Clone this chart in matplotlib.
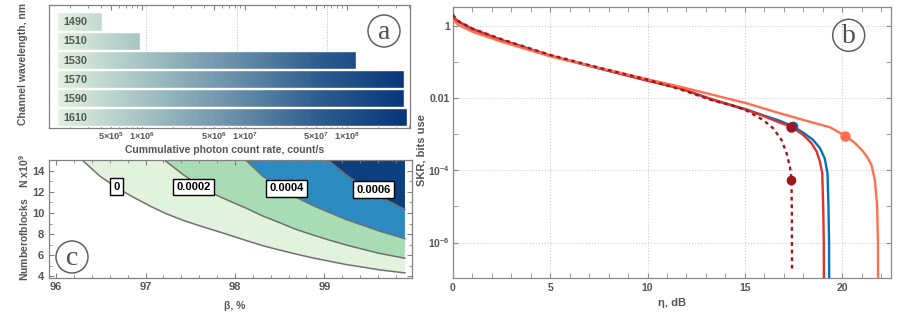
import numpy as np
import matplotlib
matplotlib.use('Agg')
import matplotlib.pyplot as plt
from matplotlib.colors import LinearSegmentedColormap
from matplotlib.patches import Ellipse
from matplotlib.ticker import FixedLocator, MultipleLocator, NullFormatter

plt.rcParams['font.family'] = ['Liberation Sans', 'DejaVu Sans']
plt.rcParams['mathtext.fontset'] = 'custom'
plt.rcParams['mathtext.rm'] = 'Liberation Sans:bold'
plt.rcParams['mathtext.it'] = 'Liberation Sans:bold'
plt.rcParams['mathtext.bf'] = 'Liberation Sans:bold'

GRAY = '#555555'
FRAME = '#808080'

# ---- panel (a): photon count rate per channel
channels = ['1490', '1510', '1530', '1570', '1590', '1610']
count_rate = [4.05e5, 9.6e5, 1.22e8, 3.6e8, 3.55e8, 3.82e8]
bar_base = 1.48e5

# ---- panel (c): contour boundaries (beta %, N x1e9)
levels = ['0', '0.0002', '0.0004', '0.0006']
beta_0 = [96.29, 96.49, 96.68, 96.86, 97.05, 97.23, 97.42, 97.61, 97.79, 97.94, 98.13, 98.31,
          98.50, 98.68, 98.87, 99.06, 99.24, 99.43, 99.61, 99.90]
n_0 = [15.0, 13.47, 12.37, 11.50, 10.65, 9.93, 9.30, 8.77, 8.30, 7.90, 7.38, 6.91,
       6.49, 6.12, 5.75, 5.43, 5.13, 4.88, 4.63, 4.33]
beta_2 = [97.21, 97.42, 97.61, 97.79, 97.94, 98.13, 98.31, 98.50, 98.68, 98.87, 99.06, 99.24,
          99.43, 99.61, 99.90]
n_2 = [15.0, 13.62, 12.53, 11.69, 11.12, 10.43, 9.71, 9.08, 8.45, 7.92, 7.42, 6.98,
       6.57, 6.19, 5.72]
beta_4 = [98.12, 98.31, 98.50, 98.68, 98.87, 99.06, 99.24, 99.43, 99.61, 99.90]
n_4 = [15.0, 13.47, 12.37, 11.50, 10.71, 10.02, 9.39, 8.83, 8.30, 7.57]
beta_6 = [99.04, 99.24, 99.43, 99.61, 99.90]
n_6 = [15.0, 13.62, 12.53, 11.59, 10.33]
label_beta = [96.68, 97.54, 98.58, 99.55]
label_n = [12.47, 12.44, 12.31, 12.21]

# ---- panel (b): SKR vs losses
eta_blue = [0, 0.1, 0.3, 1, 2.5, 5, 7.5, 10, 11.66, 13.37, 15.08, 15.94, 16.79, 17.45, 17.99, 18.5,
            18.85, 19.1, 19.24, 19.29, 19.32, 19.33]
skr_blue = [1.9, 1.55, 1.27, 0.80, 0.40, 0.147, 0.066, 0.030, 0.0185, 0.0089, 0.0048, 0.0033, 0.00234,
            0.00166, 0.0011, 6.9e-4, 4.1e-4, 2.1e-4, 8.3e-5, 1.0e-5, 1e-6, 1e-8]
eta_red = [0, 0.1, 0.3, 1, 2.5, 5, 7.5, 10, 11.66, 13.37, 15.08, 15.94, 16.79, 17.36, 17.99, 18.42,
           18.68, 18.85, 18.97, 19.02, 19.05, 19.06]
skr_red = [1.97, 1.58, 1.29, 0.81, 0.40, 0.148, 0.066, 0.030, 0.0185, 0.0088, 0.00466, 0.00318, 0.00207,
           0.00162, 9.5e-4, 5.6e-4, 3.3e-4, 1.74e-4, 8.3e-5, 1.0e-5, 1e-6, 1e-8]
eta_sal = [0, 0.3, 1, 2.5, 5, 7.5, 10, 11.66, 13.37, 15.08, 16.79, 18.5, 19.36, 20.13, 20.6, 21.07,
           21.3, 21.5, 21.67, 21.79, 21.83, 21.84]
skr_sal = [1.43, 1.04, 0.68, 0.36, 0.141, 0.068, 0.0328, 0.0205, 0.0121, 0.00713, 0.00377, 0.00207,
           0.00155, 9.1e-4, 6.0e-4, 3.3e-4, 2.2e-4, 1.4e-4, 5.4e-5, 1e-5, 1e-6, 1e-8]
eta_dash = [0, 0.3, 1, 2.5, 5, 7.5, 10, 11.66, 13.37, 14.57, 15.08, 15.94, 16.45, 16.88, 17.14, 17.31,
            17.39, 17.41, 17.42]
skr_dash = [2.0, 1.32, 0.83, 0.42, 0.155, 0.069, 0.032, 0.0174, 0.0084, 0.00575, 0.00447, 0.00245,
            0.00145, 6.9e-4, 2.95e-4, 1.26e-4, 6.0e-5, 6.3e-6, 1.6e-7]
dot_eta = [17.45, 17.36, 20.15, 17.38]
dot_skr = [1.66e-3, 1.62e-3, 9.1e-4, 5.5e-5]

W, H = 897, 315
fig = plt.figure(figsize=(W / 100, H / 100), dpi=100)


def px_axes(l, t, r, b):
    return fig.add_axes([l / W, 1 - b / H, (r - l) / W, (b - t) / H])


def style_frame(ax, color=FRAME, size=8):
    for s in ax.spines.values():
        s.set_color(color)
        s.set_linewidth(0.9)
    ax.tick_params(which='both', direction='in', colors=color, labelcolor=GRAY,
                   labelsize=size, top=True, right=True)
    ax.tick_params(which='major', length=3.5)
    ax.tick_params(which='minor', length=2)
    for t in ax.get_xticklabels() + ax.get_yticklabels():
        t.set_fontweight('bold')


def circle_label(x, y, letter, r=16):
    fig.add_artist(Ellipse((x / W, 1 - y / H), 2 * r / W, 2 * r / H, transform=fig.transFigure,
                           facecolor='none', edgecolor='#606060', lw=1.1, zorder=10))
    fig.text(x / W, 1 - (y + 1.5) / H, letter, ha='center', va='center', fontsize=20,
             family='Liberation Serif', color='#505050', zorder=11)


# ---------------- panel (a)
axa = px_axes(49, 5, 410, 128)
axa.set_xscale('log')
xmin, xmax = 1.24e5, 4.1e8
ypos = np.arange(len(channels))
bars = axa.barh(ypos, np.array(count_rate) - bar_base, left=bar_base, height=0.94,
                facecolor='none', edgecolor='white', lw=1.0, zorder=3)
grad = LinearSegmentedColormap.from_list('g', ['#e1f1df', '#a3c1c3', '#6a90aa', '#2d5c8e', '#08367a'])
xe = np.logspace(np.log10(bar_base), np.log10(3.85e8), 200)
for bar in bars:
    ye = [bar.get_y(), bar.get_y() + bar.get_height()]
    mesh = axa.pcolormesh(xe, ye, np.linspace(0, 1, len(xe) - 1)[None, :], cmap=grad, zorder=2)
    mesh.set_clip_path(bar)
for i, ch in enumerate(channels):
    axa.text(1.72e5, i + 0.04, ch, va='center', ha='left', fontsize=7.8, fontweight='bold', color=GRAY, zorder=4)
axa.set_xlim(xmin, xmax)
axa.set_ylim(5.55, -0.86)
axa.set_yticks([])
axa.set_xticks([5e5, 1e6, 5e6, 1e7, 5e7, 1e8])
axa.set_xticklabels([r'5$\times$10$^{5}$', r'1$\times$10$^{6}$', r'5$\times$10$^{6}$',
                     r'1$\times$10$^{7}$', r'5$\times$10$^{7}$', r'1$\times$10$^{8}$'])
for g in [1.1e6, 8.5e6, 6.4e7]:
    axa.axvline(g, color='#bbbbbb', lw=0.7, ls=':', zorder=1)
style_frame(axa, size=6.6)
axa.tick_params(axis='x', pad=1.5)
axa.tick_params(axis='y', left=False, right=False)
fig.text(225 / W, 1 - 150 / H, 'Cummulative photon count rate, count/s', ha='center', va='center',
         fontsize=7.5, fontweight='bold', color=GRAY)
fig.text(23 / W, 1 - 64 / H, 'Channel wavelength, nm', ha='center', va='center', rotation=90,
         fontsize=7.5, fontweight='bold', color=GRAY)
circle_label(384, 31, 'a')

# ---------------- panel (c)
axc = px_axes(49, 160, 412, 277.5)
fills = ['#e1f3dc', '#a8dcb5', '#2b8bc0', '#0b3f80']
curves = [(beta_0, n_0), (beta_2, n_2), (beta_4, n_4), (beta_6, n_6)]
for (bx, ny), col in zip(curves, fills):
    px = list(bx) + [bx[-1]]
    py = list(ny) + [15.0]
    axc.fill(px, py, color=col, lw=0, zorder=1)
    axc.plot(bx, ny, color='#707070', lw=1.1, zorder=2)
for lab, bx, ny in zip(levels, label_beta, label_n):
    axc.text(bx, ny, lab, ha='center', va='center', fontsize=8, fontweight='bold', color='black', zorder=5,
             bbox=dict(boxstyle='square,pad=0.3', fc='white', ec='black', lw=1.0))
axc.set_xlim(95.92, 99.98)
axc.set_ylim(3.9, 15.0)
axc.set_xticks([96, 97, 98, 99])
axc.set_yticks([4, 6, 8, 10, 12, 14])
axc.xaxis.set_minor_locator(MultipleLocator(0.2))
axc.yaxis.set_minor_locator(MultipleLocator(1))
style_frame(axc)
fig.text(235 / W, 1 - 306 / H, 'β, %', ha='center', va='center', fontsize=7.5, fontweight='bold', color=GRAY)
fig.text(24 / W, 1 - 218 / H, r'Numberofblocks    N x10$^{9}$', ha='center', va='center', rotation=90,
         fontsize=7.5, fontweight='bold', color=GRAY)
circle_label(72, 257, 'c')

# ---------------- panel (b)
axb = px_axes(452.7, 7.3, 891, 278.3)
axb.set_yscale('log')
axb.plot(eta_blue, skr_blue, color='#0072BD', lw=1.7, zorder=3)
axb.plot(eta_red, skr_red, color='#E2312B', lw=1.7, zorder=4)
axb.plot(eta_sal, skr_sal, color='#FF6E50', lw=1.7, zorder=4)
axb.plot(eta_dash, skr_dash, color='#A2141C', lw=1.7, ls=(0, (1.6, 1.6)), zorder=5)
axb.plot(dot_eta[0], dot_skr[0], 'o', color='#0072BD', ms=6, zorder=6)
axb.plot(dot_eta[1], dot_skr[1], 'o', color='#A2141C', ms=6.5, zorder=7)
axb.plot(dot_eta[2], dot_skr[2], 'o', color='#FF6E50', ms=6.5, zorder=7)
axb.plot(dot_eta[3], dot_skr[3], 'o', color='#A2141C', ms=6, zorder=7)
axb.set_xlim(0, 22.5)
axb.set_ylim(1.03e-7, 3.2)
axb.set_xticks([0, 5, 10, 15, 20])
axb.xaxis.set_minor_locator(MultipleLocator(1))
axb.yaxis.set_major_locator(FixedLocator([1e-6, 1e-4, 1e-2, 1]))
axb.set_yticklabels([r'10$^{-6}$', r'10$^{-4}$', '0.01', '1'])
axb.yaxis.set_minor_locator(FixedLocator([1e-7, 1e-5, 1e-3, 1e-1]))
axb.yaxis.set_minor_formatter(NullFormatter())
axb.grid(True, which='major', color='#cccccc', ls=':', lw=0.8)
axb.set_axisbelow(True)
style_frame(axb, color='#8a8a8a', size=7.5)
axb.tick_params(which='minor', length=3.5)
axb.tick_params(axis='y', pad=2)
fig.text(672 / W, 1 - 303 / H, 'η, dB', ha='center', va='center', fontsize=8, fontweight='bold', color=GRAY)
fig.text(421 / W, 1 - 150 / H, 'SKR, bits use', ha='center', va='center', rotation=90,
         fontsize=8, fontweight='bold', color=GRAY)
circle_label(848.7, 35.3, 'b')

fig.savefig('out.png', dpi=100)
